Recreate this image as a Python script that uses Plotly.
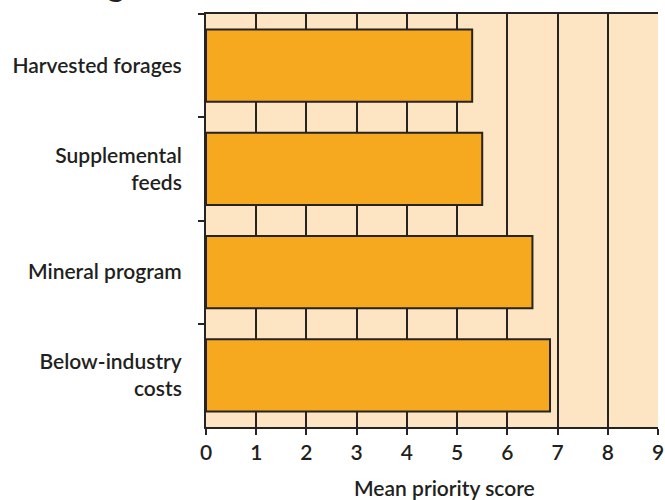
import plotly.graph_objects as go

categories = ["Harvested forages", "Supplemental<br>feeds", "Mineral program", "Below-industry<br>costs"]
scores = [5.3, 5.5, 6.5, 6.85]
x_ticks = [0, 1, 2, 3, 4, 5, 6, 7, 8, 9]
x_title = "Mean priority score"

dark = "#262324"
fnt = "Lato"

fig = go.Figure(go.Bar(
    x=scores, y=categories, orientation="h",
    marker=dict(color="#f6a81e", line=dict(color=dark, width=2)),
    width=0.7,
))

fig.update_layout(
    width=665, height=500,
    margin=dict(l=206, r=7, t=14, b=73, autoexpand=False),
    plot_bgcolor="#fde4c3", paper_bgcolor="white",
    showlegend=False,
    font=dict(family=fnt, color="#231f20", size=21, weight=600),
)
# fragment of the cut-off chart title at the top edge
fig.add_annotation(
    text="g", xref="paper", yref="paper", x=-0.199, y=1.024,
    xanchor="center", yanchor="bottom", showarrow=False, borderpad=0,
    font=dict(size=34, family=fnt, weight=900, color="#231f20"),
)
# x-axis title
fig.add_annotation(
    text=x_title, xref="paper", yref="paper", x=0.5277, y=-0.147,
    xanchor="center", yanchor="middle", showarrow=False,
    font=dict(size=21, family=fnt, weight=600, color="#231f20"),
)
fig.update_xaxes(
    range=[0, 9], tickvals=x_ticks, ticktext=[str(v) for v in x_ticks],
    showgrid=True, gridcolor=dark, gridwidth=2,
    showline=True, linecolor=dark, linewidth=2, mirror=True,
    ticks="outside", ticklen=6, tickwidth=2, tickcolor=dark,
    tickfont=dict(size=21, family=fnt, weight=600),
    zeroline=False, automargin=False,
)
fig.update_yaxes(
    autorange="reversed", range=[3.5, -0.5],
    showgrid=False, showline=True, linecolor=dark, linewidth=2,
    ticks="outside", ticklen=6, tickwidth=2, tickcolor=dark,
    tickson="boundaries", ticklabelstandoff=18,
    tickfont=dict(size=21, family=fnt, weight=600),
    automargin=False,
)

fig.write_html("out.html", config={"displayModeBar": False},
               post_script="document.body.style.margin='0';document.body.style.overflow='hidden';")
